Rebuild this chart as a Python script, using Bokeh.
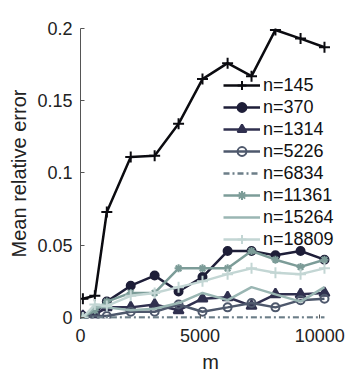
from bokeh.plotting import figure
from bokeh.models import Range1d, FixedTicker, Legend, LegendItem
from bokeh.embed import file_html
from bokeh.resources import INLINE

m = [100, 600, 1100, 2100, 3100, 4100, 5100, 6150, 7150, 8150, 9200, 10200]

labels = ["n=145", "n=370", "n=1314", "n=5226", "n=6834", "n=11361", "n=15264", "n=18809"]
err_145 = [0.013, 0.015, 0.073, 0.111, 0.112, 0.134, 0.165, 0.176, 0.167, 0.199, 0.193, 0.187]
err_370 = [0.001, 0.003, 0.011, 0.022, 0.029, 0.018, 0.028, 0.046, 0.046, 0.043, 0.046, 0.040]
err_1314 = [0.001, 0.002, 0.007, 0.007, 0.009, 0.005, 0.013, 0.014, 0.008, 0.016, 0.016, 0.017]
err_5226 = [0.0, 0.001, 0.001, 0.004, 0.004, 0.009, 0.004, 0.007, 0.010, 0.007, 0.012, 0.013]
err_6834 = [0.0, 0.0, 0.0, 0.0, 0.0, 0.0, 0.0, 0.0, 0.0, 0.0, 0.0, 0.0]
err_11361 = [0.0, 0.005, 0.011, 0.017, 0.017, 0.034, 0.034, 0.034, 0.046, 0.040, 0.035, 0.040]
err_15264 = [0.0, 0.007, 0.007, 0.005, 0.006, 0.010, 0.017, 0.012, 0.021, 0.016, 0.011, 0.021]
err_18809 = [0.0, 0.009, 0.008, 0.015, 0.017, 0.021, 0.025, 0.030, 0.034, 0.031, 0.030, 0.034]
series = [err_145, err_370, err_1314, err_5226, err_6834, err_11361, err_15264, err_18809]

y_ticks = [0, 0.05, 0.1, 0.15, 0.2]
y_tick_labels = ["0", "0.05", "0.1", "0.15", "0.2"]
x_ticks = [0, 5000, 10000]

colors = ["#0b0b10", "#1e1e38", "#30304f", "#4e586c", "#6c7e88", "#7c9c98", "#9ab6b3", "#c3d6d4"]
markers = ["cross", "circle", "triangle", "circle", None, "asterisk", None, "cross"]
msizes = [11, 8, 10, 8, 0, 8, 0, 11]
mfill = [True, True, True, False, False, False, False, False]
dashes = ["solid", "solid", "solid", "solid", "6 3 2 3", "solid", "solid", "solid"]

FONT = "Liberation Sans"

# frame spans page x 80..340; data area ends near 10200 at x=324
p = figure(width=355, height=375, output_backend="svg", toolbar_location=None,
           x_range=Range1d(0, 10870), y_range=Range1d(-0.0007, 0.2),
           min_border_left=80, min_border_right=15, min_border_top=28, min_border_bottom=57)
p.outline_line_color = None
p.grid.grid_line_color = None
p.background_fill_color = "white"
p.border_fill_color = "white"

items = []
for lab, ys, c, mk, ms, mf, d in zip(labels, series, colors, markers, msizes, mfill, dashes):
    rs = [p.line(m, ys, line_color=c, line_width=2.5, line_dash=d)]
    if mk is not None:
        rs.append(p.scatter(m, ys, marker=mk, size=ms, line_color=c, line_width=2,
                            fill_color=c if mf else None))
    items.append(LegendItem(label=lab, renderers=rs))

legend = Legend(items=items, location=(143, 68), padding=0, margin=0, spacing=0,
                glyph_width=37, glyph_height=22, label_height=22, label_standoff=3,
                border_line_color=None, background_fill_alpha=0,
                label_text_font=FONT, label_text_font_size="18px", label_text_color="#111111")
p.add_layout(legend, "center")

yaxis = p.yaxis[0]
yaxis.ticker = FixedTicker(ticks=y_ticks)
yaxis.major_label_overrides = {t: s for t, s in zip(y_ticks, y_tick_labels)}
xaxis = p.xaxis[0]
xaxis.ticker = FixedTicker(ticks=x_ticks)

for ax in (xaxis, yaxis):
    ax.major_tick_in = 4
    ax.major_tick_out = 0
    ax.minor_tick_line_color = None
    ax.major_tick_line_color = "#555555"
    ax.major_label_text_font = FONT
    ax.major_label_text_font_size = "18px"
    ax.major_label_text_color = "#222222"
    ax.axis_label_text_font = FONT
    ax.axis_label_text_font_size = "20px"
    ax.axis_label_text_font_style = "normal"
    ax.axis_label_text_color = "#222222"
yaxis.axis_line_color = "#555555"
xaxis.axis_line_color = None
yaxis.axis_label = "Mean relative error"
xaxis.axis_label = "m"
yaxis.major_label_standoff = 8
xaxis.major_label_standoff = 10
yaxis.axis_label_standoff = 4
xaxis.axis_label_standoff = 6

open("out.html", "w").write(file_html(p, INLINE))
